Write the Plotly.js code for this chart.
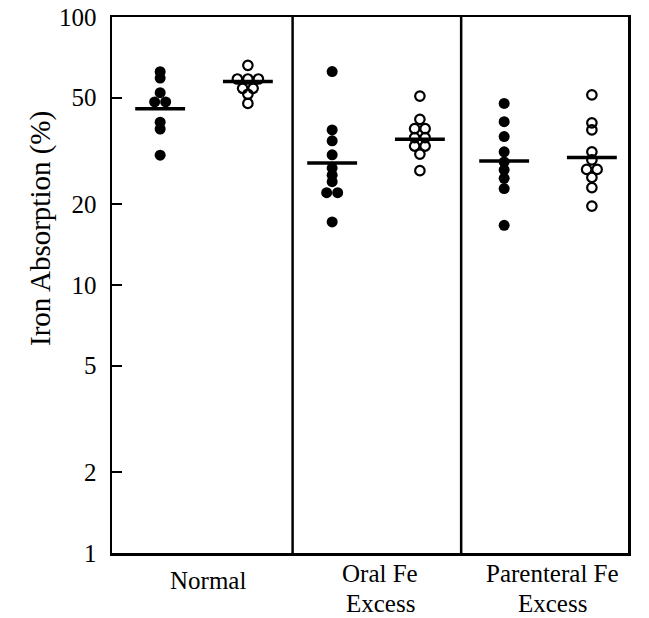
<!DOCTYPE html>
<html>
<head>
<meta charset="utf-8">
<script src="https://cdn.plot.ly/plotly-3.0.1.min.js"></script>
<style>html,body{margin:0;padding:0;background:#fff;}#chart{width:649px;height:618px;}</style>
</head>
<body>
<div id="chart"></div>
<script>
// ---- data ----
const groupLine1 = ["Normal", "Oral Fe", "Parenteral Fe"];
const groupLine2 = ["", "Excess", "Excess"];
const normalFilled = [62.5, 59.2, 52.2, 48.2, 48.2, 40.5, 38.2, 30.5];
const normalOpen = [66, 58.7, 58.7, 58.7, 54.2, 54.2, 51.5, 47.6];
const oralFilled = [62.6, 37.9, 34.5, 30.6, 27.3, 25.7, 24.3, 22.1, 22.1, 17.2];
const oralOpen = [50.7, 41.5, 38.3, 38.3, 35.5, 35.5, 33, 33, 30.8, 26.7];
const parenteralFilled = [47.6, 40.7, 35.8, 31.4, 28.8, 26.9, 25.0, 22.9, 16.7];
const parenteralOpen = [51.2, 40.3, 37.9, 31.4, 29.3, 27.0, 27.0, 25.2, 23.1, 19.7];
const meansFilled = [45.5, 28.5, 29.0];
const meansOpen = [57.5, 35.0, 29.9];
const yTickVals = [1, 2, 5, 10, 20, 50, 100];
const yTickText = ["1", "2", "5", "10", "20", "50", "100"];
const yTitle = "Iron Absorption (%)";

// ---- layout / style ----
const W = 649, H = 618;
const M = {l: 112, r: 21, t: 17, b: 65};
const plotW = W - M.l - M.r, plotH = H - M.t - M.b;
const pxPerUnit = plotW / 3;
const filledOffset = 0.28, openOffset = 0.79, labelOffset = 0.56;
const barHalf = 0.145;
const dividers = [1.05, 2.03];
const font = "Liberation Serif, Times New Roman, serif";
const pyToPaper = py => (H - M.b - py) / plotH;   // page pixel y -> paper y
const pxToPaper = px => (px - M.l) / plotW;

// spread identical values side by side in a row
function spread(values, center, spacingPx) {
  const counts = {}, seen = {};
  values.forEach(v => counts[v] = (counts[v] || 0) + 1);
  return values.map(v => {
    const j = seen[v] = (seen[v] === undefined ? 0 : seen[v] + 1);
    return center + (j - (counts[v] - 1) / 2) * spacingPx / pxPerUnit;
  });
}

const filledSets = [normalFilled, oralFilled, parenteralFilled];
const openSets = [normalOpen, oralOpen, parenteralOpen];
const traces = [];
filledSets.forEach((vals, i) => {
  traces.push({type: 'scatter', mode: 'markers', x: spread(vals, i + filledOffset, 11), y: vals,
    marker: {color: 'black', size: 11, symbol: 'circle'}, hoverinfo: 'y'});
});
openSets.forEach((vals, i) => {
  traces.push({type: 'scatter', mode: 'markers', x: spread(vals, i + openOffset, 10.5), y: vals,
    marker: {color: 'black', size: 9.5, symbol: 'circle-open', line: {width: 2.2, color: 'black'}}, hoverinfo: 'y'});
});
const bx = [], by = [];
meansFilled.forEach((m, i) => { bx.push(i + filledOffset - barHalf, i + filledOffset + barHalf, null); by.push(m, m, null); });
meansOpen.forEach((m, i) => { bx.push(i + openOffset - barHalf, i + openOffset + barHalf, null); by.push(m, m, null); });
traces.push({type: 'scatter', mode: 'lines', x: bx, y: by, line: {color: 'black', width: 3.5}, hoverinfo: 'skip'});

const annotations = [];
groupLine1.forEach((t, i) => {
  const single = !groupLine2[i];
  annotations.push({text: t, xref: 'x', yref: 'paper', x: i + labelOffset, y: pyToPaper(single ? 580 : 573),
    xanchor: 'center', yanchor: 'middle', showarrow: false, font: {family: font, size: 25, color: 'black'}});
  if (!single) annotations.push({text: groupLine2[i], xref: 'x', yref: 'paper', x: i + labelOffset, y: pyToPaper(603),
    xanchor: 'center', yanchor: 'middle', showarrow: false, font: {family: font, size: 25, color: 'black'}});
});
annotations.push({text: yTitle, xref: 'paper', yref: 'paper', x: pxToPaper(40), y: pyToPaper(229),
  textangle: -90, xanchor: 'center', yanchor: 'middle', showarrow: false,
  font: {family: font, size: 29, color: 'black'}});

const layout = {
  width: W, height: H, margin: M, showlegend: false,
  paper_bgcolor: 'white', plot_bgcolor: 'white',
  font: {family: font, color: 'black', size: 24},
  xaxis: {range: [0, 3], showgrid: false, zeroline: false, showline: true, mirror: true,
    linecolor: 'black', linewidth: 2.5, ticks: '', showticklabels: false},
  yaxis: {type: 'log', range: [0, 2], showgrid: false, zeroline: false, showline: true, mirror: true,
    linecolor: 'black', linewidth: 2.5, ticks: 'inside', ticklen: 10, tickwidth: 2, tickcolor: 'black',
    tickvals: yTickVals, ticktext: yTickText, ticklabelstandoff: 8,
    tickfont: {family: font, size: 25, color: 'black'}},
  annotations: annotations,
  shapes: dividers.map(d => ({type: 'line', xref: 'x', yref: 'paper', x0: d, x1: d, y0: 0, y1: 1,
    line: {color: 'black', width: 2.5}}))
};
Plotly.newPlot('chart', traces, layout, {staticPlot: true, displayModeBar: false});
</script>
</body>
</html>
